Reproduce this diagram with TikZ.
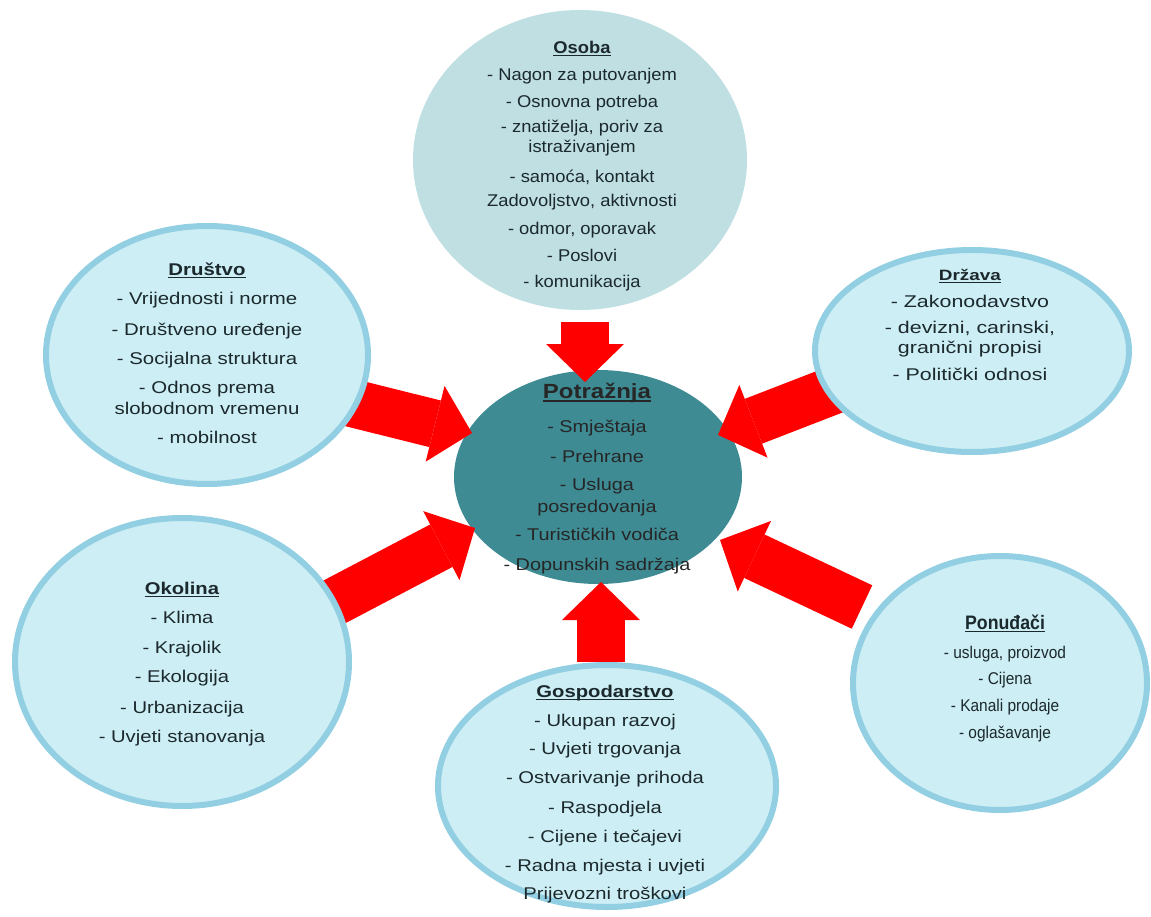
\documentclass[tikz,border=0pt]{standalone}
\usepackage{fontspec}
\setmainfont{Liberation Sans}
\newfontfamily\fos{Liberation Sans}[FakeStretch=1.08]
\newfontfamily\fdr{Liberation Sans}[FakeStretch=1.2]
\newfontfamily\fdz{Liberation Sans}[FakeStretch=1.26]
\newfontfamily\fok{Liberation Sans}[FakeStretch=1.19]
\newfontfamily\fpo{Liberation Sans}[FakeStretch=0.91]
\newfontfamily\fpt{Liberation Sans}[FakeStretch=1.17]
\usetikzlibrary{shapes.geometric,arrows.meta}
\pgfdeclarelayer{bottom}
\pgfdeclarelayer{middle}
\pgfsetlayers{bottom,middle,main}
\definecolor{outerfill}{HTML}{CDEEF4}
\definecolor{outerline}{HTML}{93CFE2}
\definecolor{osobafill}{HTML}{BFDFE3}
\definecolor{centerfill}{HTML}{3E8B94}
\definecolor{txtcol}{HTML}{1B292D}
\definecolor{arrowred}{HTML}{FF0000}
\newcommand\ulhead[2][17]{{\fontsize{#1}{20}\selectfont\setbox0\hbox{\textbf{#2}}\rlap{\textbf{#2}}\rule[-2.8pt]{\wd0}{1.3pt}}}
\begin{document}
\begin{tikzpicture}[x=1pt,y=-1pt,
  bubble/.style={ellipse,draw=outerline,line width=6pt,fill=outerfill,inner sep=0pt},
  itemtext/.style={align=center,text=txtcol,inner sep=0pt},
  push/.style={draw=arrowred,line width=48pt,line cap=butt,
    -{Triangle[width=78pt,length=38pt,line width=0pt]}}]
\useasboundingbox (0,0) rectangle (1151,917);

% outer bubbles
\node[ellipse,fill=osobafill,inner sep=0pt,minimum width=334pt,minimum height=300pt] (osoba) at (580,160) {};
\node[bubble,minimum width=322pt,minimum height=258pt] (drustvo) at (207,355) {};
\node[bubble,minimum width=314pt,minimum height=202pt] (drzava) at (972,351) {};
\node[bubble,minimum width=334pt,minimum height=288pt] (okolina) at (182,662) {};
\node[bubble,minimum width=338pt,minimum height=242pt] (gosp) at (607,786) {};
\node[bubble,minimum width=294pt,minimum height=254pt] (ponudaci) at (1000,683) {};

% centre
\begin{pgfonlayer}{bottom}
\node[ellipse,fill=centerfill,inner sep=0pt,minimum width=288pt,minimum height=214pt] (potraznja) at (598,477) {};
\end{pgfonlayer}

% texts
\node[itemtext,font=\fos\fontsize{17}{20}\selectfont] (osobaT) at (582,166) {%
\ulhead{Osoba}\\[7pt] - Nagon za putovanjem\\[7pt] - Osnovna potreba\\[5pt] - znatiželja, poriv za\\ istraživanjem\\[10pt] - samoća, kontakt\\[4pt] Zadovoljstvo, aktivnosti\\[8pt] - odmor, oporavak\\[7pt] - Poslovi\\[6pt] - komunikacija};

\node[itemtext,font=\fdr\fontsize{17}{20}\selectfont] (drustvoT) at (207,353) {%
\ulhead{Društvo}\\[9pt] - Vrijednosti i norme\\[11pt] - Društveno uređenje\\[9pt] - Socijalna struktura\\[9pt] - Odnos prema\\[1pt] slobodnom vremenu\\[9pt] - mobilnost};

\node[itemtext,font=\fdz\fontsize{17}{20}\selectfont] (drzavaT) at (970,325) {%
\ulhead[15]{Država}\\[7pt] - Zakonodavstvo\\[6pt] - devizni, carinski,\\ granični propisi\\[7pt] - Politički odnosi};

\node[itemtext,font=\fpt\fontsize{17}{20}\selectfont,text=black!85] (potraznjaT) at (597,479) {%
\ulhead[20.5]{Potražnja}\\[14pt] - Smještaja\\[10pt] - Prehrane\\[8pt] - Usluga\\[2pt] posredovanja\\[8pt] - Turističkih vodiča\\[10pt] - Dopunskih sadržaja};

\node[itemtext,font=\fok\fontsize{17}{20}\selectfont] (okolinaT) at (182,664) {%
\ulhead{Okolina}\\[9pt] - Klima\\[10pt] - Krajolik\\[9pt] - Ekologija\\[11pt] - Urbanizacija\\[9pt] - Uvjeti stanovanja};

\node[itemtext,font=\fok\fontsize{17}{20}\selectfont] (gospT) at (605,794) {%
\ulhead{Gospodarstvo}\\[9pt] - Ukupan razvoj\\[8pt] - Uvjeti trgovanja\\[9pt] - Ostvarivanje prihoda\\[10pt] - Raspodjela\\[9pt] - Cijene i tečajevi\\[9pt] - Radna mjesta i uvjeti\\[8pt] Prijevozni troškovi};

\node[itemtext,font=\fpo\fontsize{17}{20}\selectfont] (ponudaciT) at (1005,678) {%
\ulhead[19.5]{Ponuđači}\\[9pt] - usluga, proizvod\\[6pt] - Cijena\\[7pt] - Kanali prodaje\\[7pt] - oglašavanje};

% arrow ends
\coordinate (osobaOut) at (585,322);
\coordinate (potTop) at (585,382);
\coordinate (gospOut) at (601,662);
\coordinate (potBot) at (601,582);
\coordinate (drustvoOut) at (350,402.6);
\coordinate (potLU) at (472,433);
\coordinate (okolinaOut) at (329,604.7);
\coordinate (potLL) at (475,528);
\coordinate (drzavaOut) at (836.5,389.1);
\coordinate (potRU) at (718,435);
\coordinate (ponudaciOut) at (862,607);
\coordinate (potRL) at (720,540);

\begin{pgfonlayer}{middle}
\draw[push] (osobaOut) -- (potTop);
\draw[push] (gospOut) -- (potBot);
\draw[push] (drustvoOut) -- (potLU);
\draw[push] (okolinaOut) -- (potLL);
\draw[push] (drzavaOut) -- (potRU);
\draw[push] (ponudaciOut) -- (potRL);
\end{pgfonlayer}
\end{tikzpicture}
\end{document}
